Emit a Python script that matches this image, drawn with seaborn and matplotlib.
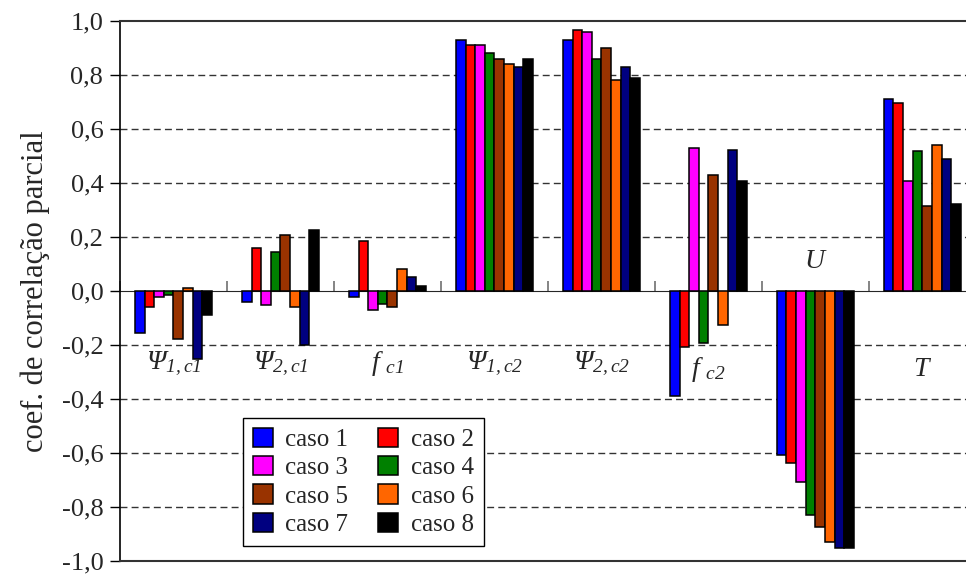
import numpy as np
import pandas as pd
import matplotlib
matplotlib.use("Agg")
import matplotlib.pyplot as plt
from matplotlib.ticker import FuncFormatter, NullFormatter
import seaborn as sns

# Dados
variaveis = ["Psi1c1", "Psi2c1", "fc1", "Psi1c2", "Psi2c2", "fc2", "U", "T"]
rotulos = [r"$Ψ_{1,c1}$", r"$Ψ_{2,c1}$", r"$f\ _{c1}$", r"$Ψ_{1,c2}$",
           r"$Ψ_{2,c2}$", r"$f\ _{c2}$", r"$U$", r"$T$"]
rotulo_y = [-0.27, -0.27, -0.27, -0.27, -0.27, -0.29, 0.11, -0.29]
casos = ["caso 1", "caso 2", "caso 3", "caso 4", "caso 5", "caso 6", "caso 7", "caso 8"]
cores = ["#0000FF", "#FF0000", "#FF00FF", "#008000", "#993300", "#FF6600", "#000080", "#000000"]

caso1 = [-0.155, -0.041, -0.022, 0.930, 0.930, -0.387, -0.606, 0.713]
caso2 = [-0.058, 0.160, 0.184, 0.912, 0.966, -0.207, -0.637, 0.697]
caso3 = [-0.022, -0.052, -0.070, 0.913, 0.960, 0.530, -0.708, 0.409]
caso4 = [-0.016, 0.143, -0.047, 0.883, 0.858, -0.194, -0.830, 0.518]
caso5 = [-0.177, 0.208, -0.059, 0.858, 0.900, 0.429, -0.873, 0.315]
caso6 = [0.010, -0.058, 0.083, 0.841, 0.781, -0.124, -0.930, 0.540]
caso7 = [-0.250, -0.200, 0.053, 0.829, 0.829, 0.524, -0.950, 0.488]
caso8 = [-0.089, 0.227, 0.019, 0.860, 0.789, 0.408, -0.950, 0.322]

valores = [caso1, caso2, caso3, caso4, caso5, caso6, caso7, caso8]
df = pd.DataFrame({
    "variavel": np.tile(variaveis, len(casos)),
    "caso": np.repeat(casos, len(variaveis)),
    "coef": np.concatenate(valores),
})

sns.set_style("white")
plt.rcParams["font.family"] = ["Liberation Serif", "DejaVu Serif"]
plt.rcParams["mathtext.fontset"] = "custom"
# rótulos das categorias todos em itálico (inclusive Ψ)
plt.rcParams["mathtext.rm"] = "Liberation Serif:italic"
plt.rcParams["mathtext.it"] = "Liberation Serif:italic"

fig = plt.figure(figsize=(9.66, 5.76), dpi=100)
ax = fig.add_axes([0.1242, 0.026, 0.886, 0.9375])

sns.barplot(data=df, x="variavel", y="coef", hue="caso", order=variaveis,
            hue_order=casos, palette=cores, width=0.72, gap=0,
            edgecolor="black", linewidth=1.1, saturation=1, ax=ax, zorder=3)

ax.set_xlim(-0.5, len(variaveis) - 0.5)
ax.set_ylim(-1.0, 1.0)
ax.set_yticks(np.round(np.arange(-1.0, 1.01, 0.2), 1))
ax.yaxis.set_major_formatter(FuncFormatter(lambda v, _: f"{v:.1f}".replace(".", ",").replace("-0,0", "0,0")))
ax.tick_params(axis="y", direction="out", length=7, width=1, color="black",
               labelsize=19, left=True, pad=5)
ax.set_xticks([])
ax.set_xlabel("")
ax.set_ylabel("coef. de correlação parcial", fontsize=22, labelpad=8)

# grade tracejada
for v in np.round(np.arange(-0.8, 0.81, 0.2), 1):
    if v != 0:
        ax.axhline(v, color="#333333", lw=1, ls=(0, (5, 3)), zorder=1)

# eixo das categorias cruzando em zero
sec = ax.secondary_xaxis(0.5)
sec.set_xticks(np.arange(-0.5, len(variaveis) - 0.4, 1.0))
sec.xaxis.set_major_formatter(NullFormatter())
sec.tick_params(direction="out", length=7, width=1.2, color="#707070")
sec.spines["bottom"].set_color("#808080")
sec.spines["bottom"].set_linewidth(1.5)

for s in ["left", "top", "bottom"]:
    ax.spines[s].set_visible(True)
    ax.spines[s].set_color("black")
ax.spines["left"].set_linewidth(1.2)
ax.spines["top"].set_linewidth(1.5)
ax.spines["bottom"].set_linewidth(1.5)
ax.spines["top"].set_color("#333333")
ax.spines["bottom"].set_color("#333333")
ax.spines["right"].set_visible(False)

for i, (txt, yy) in enumerate(zip(rotulos, rotulo_y)):
    ax.text(i, yy, txt, ha="center", va="center", fontsize=20, zorder=5)

# legenda preenchida por linhas (caso 1, caso 2 na primeira linha)
handles, labels = ax.get_legend_handles_labels()
ordem = [0, 2, 4, 6, 1, 3, 5, 7]
leg = ax.legend([handles[k] for k in ordem], [labels[k] for k in ordem], ncol=2,
                loc="lower left", bbox_to_anchor=(0.1437, 0.028),
                borderaxespad=0, fontsize=18, frameon=True, fancybox=False,
                edgecolor="black", framealpha=1, handlelength=0.8, handleheight=0.8,
                handletextpad=0.5, columnspacing=1.2, labelspacing=0.2,
                borderpad=0.4)
leg.get_frame().set_linewidth(1.0)

plt.savefig("out.png", dpi=100)
